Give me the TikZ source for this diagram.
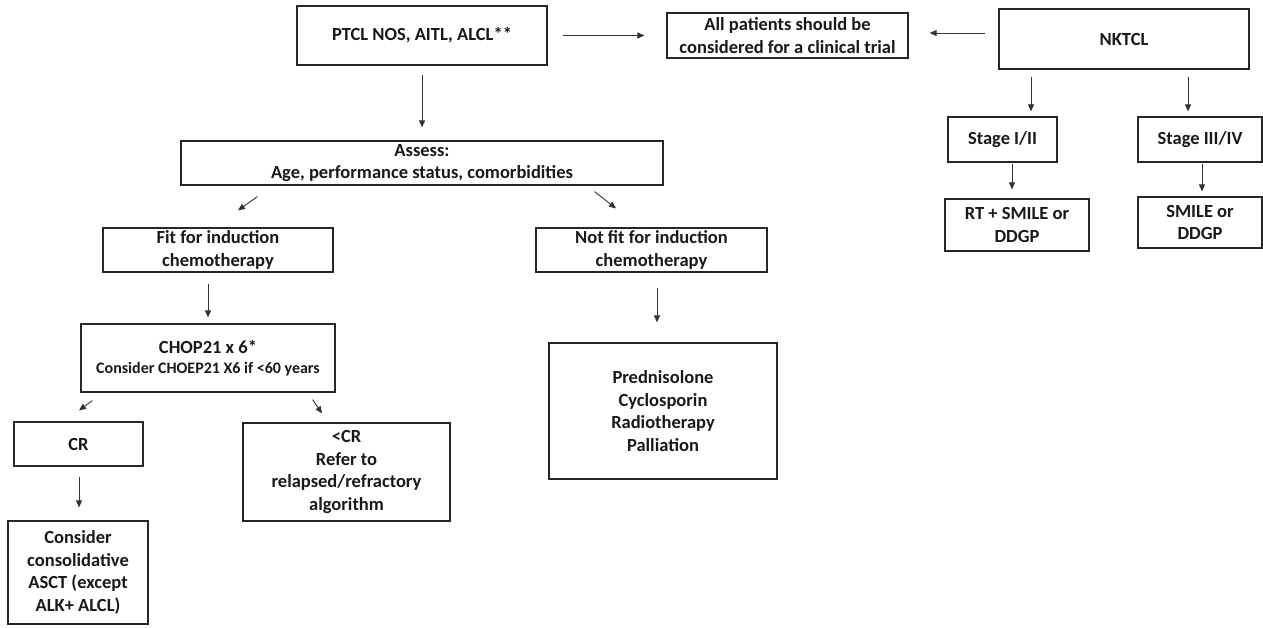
\documentclass[tikz,border=0pt]{standalone}
\usepackage{fontspec}
\setmainfont{Carlito}
\usetikzlibrary{arrows.meta,calc}
\begin{document}
\begin{tikzpicture}[x=1pt,y=-1pt,
  box/.style={draw=black!85,line width=1.2pt,inner sep=0pt,align=center,
    font=\fontsize{18.5}{22.5}\selectfont\bfseries,text=black!90},
  arr/.style={draw=black!80,line width=0.9pt,-{Triangle[length=7pt,width=6pt]}}]
\useasboundingbox (0,0) rectangle (1263,627);
% top row
\node[box,minimum width=250,minimum height=59] (ptcl) at (422,35.5) {PTCL NOS, AITL, ALCL**};
\node[box,minimum width=241,minimum height=45] (trial) at (787.5,35.5) {All patients should be\\considered for a clinical trial};
\node[box,minimum width=250,minimum height=60] (nk) at (1124,39) {NKTCL};
% NKTCL branch
\node[box,minimum width=109,minimum height=45] (s12) at (1002.5,139.5) {Stage I/II};
\node[box,minimum width=124,minimum height=45] (s34) at (1200,139.5) {Stage III/IV};
\node[box,minimum width=144,minimum height=52] (rt) at (1017,225) {RT + SMILE or\\DDGP};
\node[box,minimum width=124,minimum height=51] (smile) at (1200,222.5) {SMILE or\\DDGP};
% left branch
\node[box,minimum width=482,minimum height=44] (assess) at (422,163) {Assess:\\Age, performance status, comorbidities};
\node[box,minimum width=230,minimum height=44] (fit) at (218,250) {Fit for induction\\chemotherapy};
\node[box,minimum width=231,minimum height=44] (notfit) at (651.5,250) {Not fit for induction\\chemotherapy};
\node[box,minimum width=254,minimum height=68] (chop) at (208,358) {CHOP21 x 6*\\[-2pt]{\fontsize{16}{20}\selectfont Consider CHOEP21 X6 if <60 years}};
\node[box,minimum width=228,minimum height=136] (pred) at (663,411) {Prednisolone\\Cyclosporin\\Radiotherapy\\Palliation};
\node[box,minimum width=129,minimum height=44] (cr) at (78.5,444) {CR};
\node[box,minimum width=207,minimum height=98] (ltcr) at (346.5,472) {<CR\\Refer to\\relapsed/refractory\\algorithm};
\node[box,minimum width=140,minimum height=103] (asct) at (78,572.5) {Consider\\consolidative\\ASCT (except\\ALK+ ALCL)};
% connectors
\draw[arr,shorten <=15pt,shorten >=22pt] (ptcl.east) -- (trial.west);
\draw[arr,shorten <=13pt,shorten >=21pt] ([yshift=6pt]nk.west) -- ([yshift=2.5pt]trial.east);
\draw[arr,shorten <=9pt,shorten >=13pt] (ptcl.south) -- (assess.north);
\draw[arr,shorten <=7pt,shorten >=5pt] (nk.south -| 1031,0) -- (s12.north -| 1031,0);
\draw[arr,shorten <=7pt,shorten >=5pt] (nk.south -| 1188,0) -- (s34.north -| 1188,0);
\draw[arr,shorten <=1pt,shorten >=9pt] (s12.south -| 1012,0) -- (rt.north -| 1012,0);
\draw[arr,shorten <=1pt,shorten >=5pt] (s34.south -| 1202,0) -- (smile.north -| 1202,0);
\draw[arr] ($(assess.south west)+(77,11)$) -- ($(fit.north)+(20,-17)$);
\draw[arr] ($(assess.south east)+(-69,6)$) -- ($(notfit.north)+(-35.5,-19)$);
\draw[arr,shorten <=11pt,shorten >=6pt] (fit.south -| 208,0) -- (chop.north -| 208,0);
\draw[arr,shorten <=15pt,shorten >=20pt] (notfit.south -| 657,0) -- (pred.north -| 657,0);
\draw[arr] ($(chop.south west)+(12,8)$) -- ($(cr.north)+(0.5,-11)$);
\draw[arr] ($(chop.south east)+(-23,7)$) -- ($(ltcr.north)+(-24.5,-9)$);
\draw[arr,shorten <=10pt,shorten >=13pt] (cr.south -| 79,0) -- (asct.north -| 79,0);
\end{tikzpicture}
\end{document}
